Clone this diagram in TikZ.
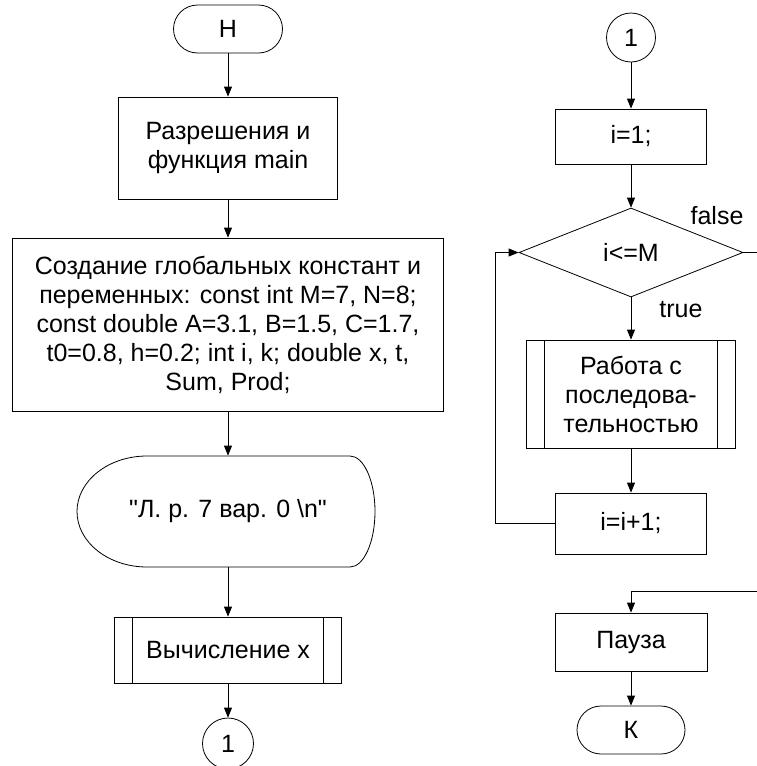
\documentclass[tikz,border=0pt]{standalone}
\usepackage{fontspec}
\setmainfont{Liberation Sans}
\usetikzlibrary{arrows.meta,shapes.geometric}

\begin{document}
\begin{tikzpicture}[x=1pt,y=-1pt,line width=0.8pt,
  every node/.style={font=\fontsize{25}{29}\selectfont},
  blk/.style={draw,align=center,inner sep=2pt},
  term/.style={draw,rounded corners=24pt,minimum width=109pt,minimum height=48pt},
  conn/.style={draw,circle,minimum size=50pt,inner sep=0pt},
  subr/.style={blk,path picture={
    \draw ([xshift=18pt]path picture bounding box.north west) -- ([xshift=18pt]path picture bounding box.south west)
          ([xshift=-18pt]path picture bounding box.north east) -- ([xshift=-18pt]path picture bounding box.south east);}},
  arr/.style={-{Triangle[length=10pt,width=8pt]}}]
  \clip (0,0) rectangle (757,766);
  % main: left column
  \node[term] (start) at (228,29) {Н};
  \node[blk,minimum width=219pt,minimum height=102pt] (perm) at (228,148) {Разрешения и\\функция main};
  \node[blk,minimum width=431pt,minimum height=173pt] (glob) at (228,324.5) {Создание глобальных констант и\\переменных: const int M=7, N=8;\\const double A=3.1, B=1.5, C=1.7,\\t0=0.8, h=0.2; int i, k; double x, t,\\Sum, Prod;};
  \node[minimum width=298pt,minimum height=111pt] (disp) at (228,511.5) {\textquotedbl Л. р. 7 вар. 0 \textbackslash n\textquotedbl};
  \draw (147,456) -- (350,456) arc[start angle=90,end angle=-90,x radius=25pt,y radius=55.5pt]
    -- (147,567) arc[start angle=270,end angle=90,x radius=70pt,y radius=55.5pt];
  \node[subr,minimum width=227pt,minimum height=66pt] (calcx) at (228,650) {Вычисление x};
  \node[conn,minimum size=51pt] (c1) at (228,743.5) {1};
  \draw[arr] (start) -- (perm); \draw[arr] (perm) -- (glob); \draw[arr] (glob) -- (disp);
  \draw[arr] (disp) -- (calcx); \draw[arr] (calcx) -- (c1);
  % loop over the sequence: right column
  \node[conn,minimum size=49pt] (c1b) at (631,37.5) {1};
  \node[blk,minimum width=151pt,minimum height=55pt] (i1) at (631,136.5) {i=1;};
  \node[draw,diamond,minimum width=224pt,minimum height=89pt,inner sep=0pt] (cond) at (631,252.5) {i<=M};
  \node[subr,minimum width=209pt,minimum height=108pt] (work) at (631,394) {Работа с\\последова-\\тельностью};
  \node[blk,minimum width=151pt,minimum height=61pt] (inc) at (631,523.5) {i=i+1;};
  \node[blk,minimum width=152pt,minimum height=58pt] (pause) at (631,642) {Пауза};
  \node[term,minimum width=108pt] (finish) at (631,730) {К};
  \node (lblF) at (717,216) {false};
  \node (lblT) at (681,310) {true};
  \coordinate (ex) at (780,591);
  \draw[arr] (c1b) -- (i1); \draw[arr] (i1) -- (cond); \draw[arr] (cond) -- (work);
  \draw[arr] (work) -- (inc); \draw[arr] (pause) -- (finish);
  \draw[arr] (inc.west) -- ++(-60,0) |- (cond.west);
  \draw[arr] (cond.east) -| (ex) -| (pause.north);
\end{tikzpicture}
\end{document}
